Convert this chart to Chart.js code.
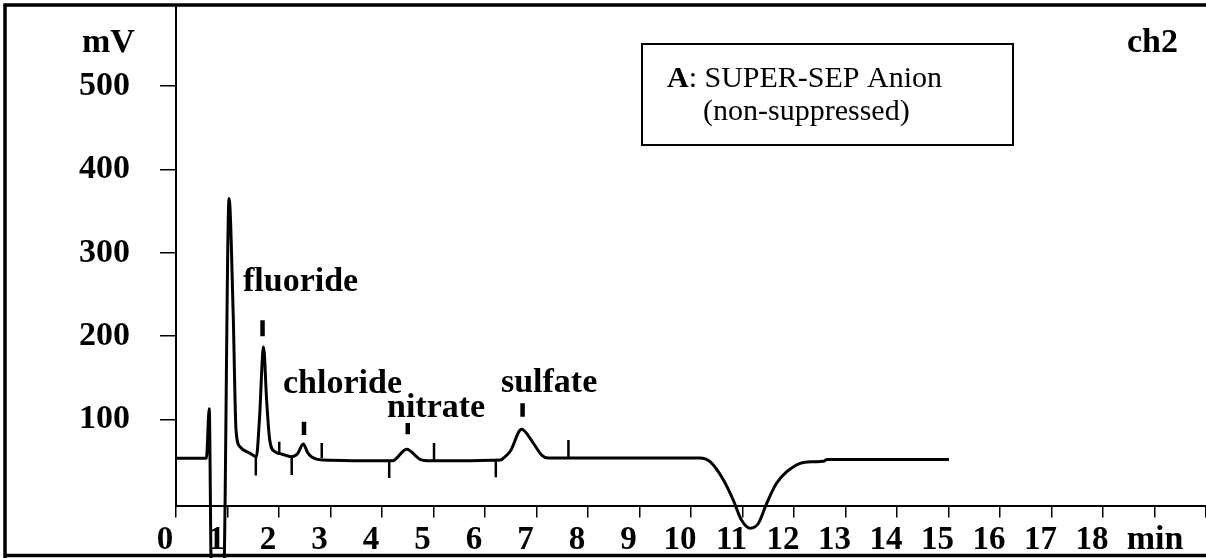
<!DOCTYPE html>
<html>
<head>
<meta charset="utf-8">
<script src="https://cdn.jsdelivr.net/npm/chart.js@4.4.0/dist/chart.umd.min.js"></script>
<style>
  html, body { margin: 0; padding: 0; background: #fff; }
  #wrap { width: 1206px; height: 558px; }
</style>
</head>
<body>
<div id="wrap"><canvas id="chromatogram"></canvas></div>
<script>
'use strict';

// chromatogram trace, time in min and signal in mV
const timeMin = [0, 0.59, 0.645, 0.69, 0.92, 1.03, 1.11, 1.165, 1.24, 1.44, 1.56,
    1.62, 1.70, 1.76, 1.82, 1.92, 2.05, 2.24, 2.36, 2.47, 2.56, 2.635, 2.85,
    4.20, 4.48, 4.74, 4.95, 6.30, 6.36, 6.49, 6.71, 6.94, 7.10, 7.23,
    10.17, 10.37, 10.63, 10.82, 10.98, 11.15, 11.31, 11.47, 11.66, 11.86, 12.12,
    12.37, 12.57, 12.64, 15.01];
const signalMv = [53.5, 53.5, 113, -100, -100, 365, 228, 88, 67.5, 59.5, 55.5,
    100, 187, 123, 75.5, 61.5, 58.8, 55.5, 59, 70.7, 60, 55, 51.5,
    50.5, 64.4, 52.4, 50.5, 51.5, 54, 62, 88.4, 71.5, 57.5, 54,
    54, 49.5, 27.6, 3.6, -20.4, -30.3, -24.3, -0.4, 23.6, 37.5, 47.6,
    49.5, 50, 52, 52];

// integration marks
const intX = [1.55, 2.005, 2.247, 2.83, 4.14, 5.01, 6.21, 7.62];
const intTop = [55, 73.5, 55.5, 72, 50.4, 72, 50.4, 75.5];
const intBottom = [33, 57.5, 33.6, 54, 30, 49.5, 31, 53.6];

// peak names and their marks
const peakNames = ['fluoride', 'chloride', 'nitrate', 'sulfate'];
const peakX = [1.68, 2.485, 4.50, 6.73];
const markTop = [219, 97.5, 96, 119.5];
const markBottom = [200, 81.5, 82.4, 103.5];

const xTicks = [0, 1, 2, 3, 4, 5, 6, 7, 8, 9, 10, 11, 12, 13, 14, 15, 16, 17, 18, 19, 20];
const yTicks = [100, 200, 300, 400, 500];

// where the peak names sit (left end, baseline) in data units
const labelAt = [[1.30, 253.6], [2.078, 131.8], [4.097, 103.2], [6.31, 133.1]];

const serif = '"Liberation Serif", "Times New Roman", serif';

function segmentPoints(xs, tops, bottoms) {
    let pts = [];
    for (let i = 0; i < xs.length; i++) {
        pts.push({ x: xs[i], y: tops[i] });
        pts.push({ x: xs[i], y: bottoms[i] });
        pts.push({ x: xs[i], y: null });
    }
    return pts;
}

const overlayPlugin = {
    id: 'overlay',
    beforeDraw(chart) {
        let c = chart.ctx;
        c.save();
        c.fillStyle = '#fff';
        c.fillRect(0, 0, chart.width, chart.height);
        c.strokeStyle = '#000';
        c.lineWidth = 3.5;
        c.beginPath();
        c.moveTo(5, 558);
        c.lineTo(5, 5);
        c.lineTo(1206, 5);
        c.moveTo(5, 555.5);
        c.lineTo(1206, 555.5);
        c.stroke();
        c.restore();
    },
    afterDraw(chart) {
        let c = chart.ctx;
        let xs = chart.scales.x;
        let ys = chart.scales.y;
        c.save();
        c.fillStyle = '#000';
        c.textBaseline = 'alphabetic';

        c.font = 'bold 34px ' + serif;
        c.textAlign = 'left';
        peakNames.forEach((name, i) => {
            c.fillText(name, xs.getPixelForValue(labelAt[i][0]), ys.getPixelForValue(labelAt[i][1]));
        });

        c.fillText('mV', 82, 52);
        c.fillText('ch2', 1127, 52);
        c.textAlign = 'center';
        c.fillText('min', 1155, 549);

        // legend box
        c.textAlign = 'left';
        c.strokeStyle = '#000';
        c.lineWidth = 2;
        c.strokeRect(642, 44, 371, 101);
        c.font = 'bold 30px ' + serif;
        c.fillText('A', 667, 87);
        let w = c.measureText('A').width;
        c.font = '30px ' + serif;
        c.fillText(': SUPER-SEP Anion', 667 + w, 87);
        c.fillText('(non-suppressed)', 703, 120);
        c.restore();
    }
};

const ctx = document.getElementById('chromatogram').getContext('2d');
const chromChart = new Chart(ctx, {
    type: 'line',
    data: {
        datasets: [{
            label: 'ch2',
            data: timeMin.map((t, i) => ({ x: t, y: signalMv[i] })),
            borderColor: '#000',
            borderWidth: 3,
            pointRadius: 0,
            fill: false,
            cubicInterpolationMode: 'monotone',
            clip: false
        }, {
            label: 'integration',
            data: segmentPoints(intX, intTop, intBottom),
            borderColor: '#000',
            borderWidth: 2.5,
            pointRadius: 0,
            spanGaps: false,
            clip: false
        }, {
            label: 'peaks',
            data: segmentPoints(peakX, markTop, markBottom),
            borderColor: '#000',
            borderWidth: 4.5,
            borderCapStyle: 'butt',
            pointRadius: 0,
            spanGaps: false,
            clip: false
        }]
    },
    options: {
        responsive: true,
        maintainAspectRatio: false,
        devicePixelRatio: 1,
        animation: false,
        layout: { padding: { top: 5, right: 0, left: 0, bottom: 0 }, autoPadding: false },
        plugins: {
            legend: { display: false },
            tooltip: { enabled: false }
        },
        scales: {
            x: {
                type: 'linear',
                min: 0,
                max: 20,
                afterBuildTicks: scale => { scale.ticks = xTicks.map(v => ({ value: v })); },
                afterFit: scale => {
                    scale.height = 52.5;
                    scale.paddingLeft = 0;
                    scale.paddingRight = 0;
                },
                grid: { drawOnChartArea: false, drawTicks: true, tickLength: 12, color: '#000', lineWidth: 1.5 },
                border: { display: true, color: '#000', width: 2 },
                ticks: {
                    autoSkip: false,
                    maxRotation: 0,
                    padding: 3,
                    labelOffset: -11,
                    color: '#000',
                    font: { family: serif, size: 33, weight: 'bold' },
                    callback: v => (v <= 18 ? String(v) : '')
                }
            },
            y: {
                type: 'linear',
                min: -3,
                max: 597,
                afterBuildTicks: scale => { scale.ticks = yTicks.map(v => ({ value: v })); },
                afterFit: scale => {
                    scale.width = 176;
                    scale.paddingTop = 0;
                    scale.paddingBottom = 0;
                },
                grid: { drawOnChartArea: false, drawTicks: true, tickLength: 16, color: '#000', lineWidth: 1.5 },
                border: { display: true, color: '#000', width: 2 },
                ticks: {
                    padding: 30,
                    color: '#000',
                    font: { family: serif, size: 34, weight: 'bold' }
                }
            }
        }
    },
    plugins: [overlayPlugin]
});
</script>
</body>
</html>
